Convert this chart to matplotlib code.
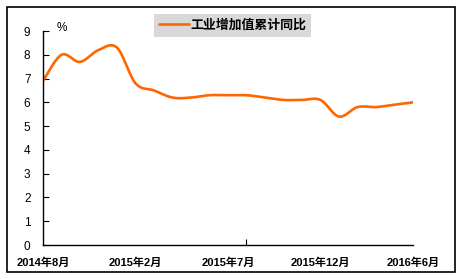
import numpy as np
import matplotlib
matplotlib.use("Agg")
import matplotlib.pyplot as plt
from matplotlib.patches import Rectangle

# Data
months = ["2014年8月", "2014年9月", "2014年10月", "2014年11月", "2014年12月",
          "2015年2月", "2015年3月", "2015年4月", "2015年5月", "2015年6月",
          "2015年7月", "2015年8月", "2015年9月", "2015年10月", "2015年11月",
          "2015年12月", "2016年2月", "2016年3月", "2016年4月", "2016年5月",
          "2016年6月"]
values = [6.9, 8.0, 7.7, 8.2, 8.3, 6.8, 6.5, 6.2, 6.2, 6.3,
          6.3, 6.3, 6.2, 6.1, 6.1, 6.1, 5.4, 5.8, 5.8, 5.9, 6.0]
tick_labels = ["2014年8月", "2015年2月", "2015年7月", "2015年12月", "2016年6月"]
series_name = "工业增加值累计同比"

fam = ["Liberation Sans", "Noto Sans CJK SC", "DejaVu Sans"]
plt.rcParams["font.family"] = fam

x = np.arange(len(values), dtype=float)
y = np.array(values, dtype=float)

# Catmull-Rom smoothing (like Excel's smoothed line)
def smooth(x, y, n=20):
    xs, ys = [], []
    P = np.column_stack([x, y])
    P = np.vstack([P[0], P, P[-1]])
    for i in range(1, len(P) - 2):
        p0, p1, p2, p3 = P[i - 1], P[i], P[i + 1], P[i + 2]
        c1 = p1 + (p2 - p0) / 6.0
        c2 = p2 - (p3 - p1) / 6.0
        t = np.linspace(0, 1, n, endpoint=(i == len(P) - 3))[:, None]
        pts = ((1 - t) ** 3) * p1 + 3 * ((1 - t) ** 2) * t * c1 + 3 * (1 - t) * t ** 2 * c2 + t ** 3 * p2
        xs.append(pts[:, 0]); ys.append(pts[:, 1])
    return np.concatenate(xs), np.concatenate(ys)

sx, sy = smooth(x, y)

fig = plt.figure(figsize=(4.66, 2.79), dpi=100)
ax = fig.add_axes([43 / 466, 1 - 245 / 279, 370 / 466, 214 / 279])

ax.plot(sx, sy, color="#FF6600", lw=1.9, label=series_name, solid_capstyle="round")

ax.set_xlim(0, len(values) - 1)
ax.set_ylim(0, 9)
ax.set_yticks(range(0, 10))
tick_pos = [months.index(t) for t in tick_labels]
ax.set_xticks(tick_pos)
ax.set_xticklabels(tick_labels, fontsize=8, fontweight="bold")
ax.tick_params(axis="x", length=0, pad=9)
ax.set_xticks([11], minor=True)
ax.tick_params(axis="x", which="minor", direction="in", length=4, width=0.8)
ax.tick_params(axis="y", direction="in", length=4, width=0.8, labelsize=8.5, pad=9)

for s in ["top", "right"]:
    ax.spines[s].set_visible(False)
for s in ["left", "bottom"]:
    ax.spines[s].set_linewidth(1.0)
    ax.spines[s].set_color("black")

ax.text(0.051, 1.015, "%", transform=ax.transAxes, ha="center", va="center", fontsize=8.5)

leg = fig.legend(loc="center", bbox_to_anchor=(232.5 / 466, 1 - 25.3 / 279),
                 frameon=True, fancybox=False, handlelength=2.3, handletextpad=0.1,
                 borderpad=0.4, borderaxespad=0,
                 prop={"family": fam, "weight": "bold", "size": 9.3})
frame = leg.get_frame()
frame.set_facecolor("#D9D9D9")
frame.set_edgecolor("none")
frame.set_alpha(1)

fig.patches.append(Rectangle((7 / 466, 1 - 272 / 279), 448 / 466, 265 / 279,
                             transform=fig.transFigure, fill=False, edgecolor="black", lw=1.2))

fig.savefig("out.png", dpi=100)
